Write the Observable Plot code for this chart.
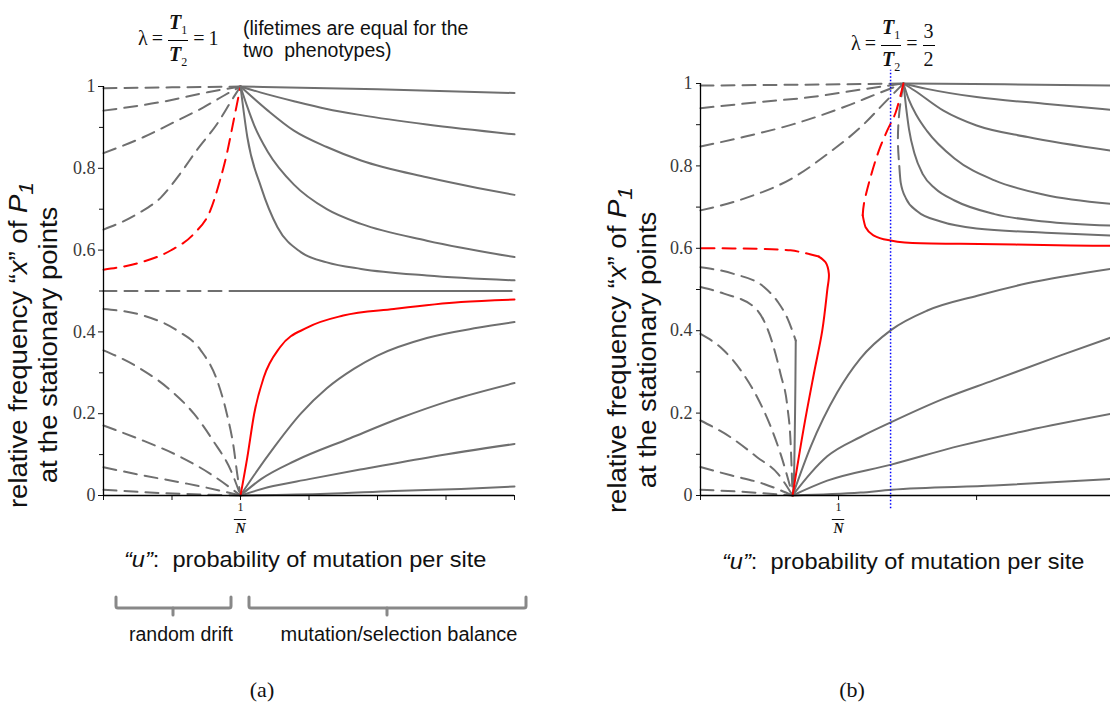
<!DOCTYPE html>
<html><head><meta charset="utf-8">
<script src="https://cdn.jsdelivr.net/npm/d3@7"></script>
<script src="https://cdn.jsdelivr.net/npm/@observablehq/plot@0.6"></script>
<style>
body{margin:0;background:#fff;width:1110px;height:710px;position:relative;overflow:hidden;font-family:"Liberation Sans",Arial,sans-serif;color:#111;}
.abs{position:absolute;white-space:nowrap;}
.serif{font-family:"Liberation Serif","Times New Roman",serif;}
.frac{display:inline-flex;flex-direction:column;align-items:center;vertical-align:middle;line-height:1.1;margin:0 1px;}
.frac .num{border-bottom:1px solid #000;padding:0 1px 3px 1px;}
.frac .den{padding-top:2px;}
.T{font-weight:bold;font-style:italic;}
.T sub{font-weight:normal;font-style:normal;font-size:60%;}
.ylab{position:absolute;transform:translate(-50%,-50%) rotate(-90deg) scaleX(1.1);text-align:center;font-size:25px;line-height:23px;white-space:nowrap;}
.xlab{font-size:22px;transform:scaleX(1.07);transform-origin:left center;}
</style></head><body>
<div id="pa" class="abs" style="left:60px;top:70px"></div>
<div id="pb" class="abs" style="left:640px;top:65px"></div>

<div class="abs serif" style="left:138px;top:11px;font-size:20px;">λ&thinsp;=&thinsp;<span class="frac"><span class="num T">T<sub>1</sub></span><span class="den T">T<sub>2</sub></span></span>&thinsp;=&thinsp;1</div>
<div class="abs" style="left:243px;top:17px;font-size:19.5px;line-height:22px;">(lifetimes are equal for the<br>two&nbsp; phenotypes)</div>
<div class="abs serif" style="left:851px;top:16px;font-size:20px;">λ&thinsp;=&thinsp;<span class="frac"><span class="num T">T<sub>1</sub></span><span class="den T">T<sub>2</sub></span></span>&thinsp;=&thinsp;<span class="frac"><span class="num">3</span><span class="den">2</span></span></div>

<div class="ylab" style="left:33px;top:345px;">relative frequency “<i>x</i>” of <i>P</i><sub><i>1</i></sub><br>at the stationary points</div>
<div class="ylab" style="left:632px;top:350px;">relative frequency “<i>x</i>” of <i>P</i><sub><i>1</i></sub><br>at the stationary points</div>

<div class="abs xlab" style="left:124px;top:547px;"><i>“u”</i>:&nbsp; probability of mutation per site</div>
<div class="abs xlab" style="left:722px;top:549px;"><i>“u”</i>:&nbsp; probability of mutation per site</div>

<svg class="abs" style="left:0;top:0" width="1110" height="710">
  <g fill="none" stroke="#888" stroke-width="3" stroke-linejoin="round" stroke-linecap="round">
    <path d="M116,597 V606 Q116,608 118,608 H229 Q231,608 231,606 V597"/>
    <path d="M173,608 V615"/>
    <path d="M249,597 V606 Q249,608 251,608 H524 Q526,608 526,606 V597"/>
    <path d="M387,608 V615"/>
  </g>
</svg>
<div class="abs" style="left:181px;top:623px;font-size:19.5px;transform:translateX(-50%);">random drift</div>
<div class="abs" style="left:399px;top:623px;font-size:20px;transform:translateX(-50%);">mutation/selection balance</div>
<div class="abs serif" style="left:262px;top:677px;font-size:22px;transform:translateX(-50%);">(a)</div>
<div class="abs serif" style="left:852px;top:677px;font-size:22px;transform:translateX(-50%);">(b)</div>

<script>
// ---------- shared ----------
const yMajor = [0, 0.2, 0.4, 0.6, 0.8, 1];
const yMinor = [0.1, 0.3, 0.5, 0.7, 0.9];
const gray = "#6f6f6f", red = "#ff0000";

// ---------- panel (a): lambda = 1, u in units of 1/N ----------
const aXTicks = [0, 0.5, 1, 1.5, 2, 2.5, 3];
const aOneOverN = [1];
const aTopD1 = [[0,0.996],[0.5,0.998],[1,1]];
const aTopD2 = [[0,0.941],[0.42,0.962],[0.76,0.986],[1,1]];
const aTopD3 = [[0,0.837],[0.29,0.876],[0.54,0.917],[0.73,0.949],[0.88,0.978],[1,1]];
const aTopD4 = [[0,0.650],[0.25,0.689],[0.42,0.729],[0.56,0.787],[0.68,0.844],[0.83,0.909],[0.95,0.974],[1,1]];
const aTopRedD = [[0,0.552],[0.25,0.568],[0.49,0.599],[0.66,0.640],[0.78,0.697],[0.85,0.770],[0.90,0.835],[0.95,0.917],[1,1]];
const aTopS1 = [[1,1],[2,0.993],[3,0.984]];
const aTopS2 = [[1,1],[1.15,0.985],[1.39,0.964],[1.63,0.945],[1.88,0.93],[2.36,0.907],[3,0.883]];
const aTopS3 = [[1,1],[1.2,0.941],[1.39,0.892],[1.63,0.852],[1.88,0.819],[2.36,0.778],[2.73,0.752],[3,0.735]];
const aTopS4 = [[1,1],[1.05,0.95],[1.1,0.905],[1.2,0.84],[1.39,0.76],[1.63,0.70],[1.88,0.664],[2.36,0.623],[3,0.583]];
const aTopS5 = [[1,1],[1.05,0.876],[1.15,0.754],[1.27,0.656],[1.44,0.595],[1.63,0.570],[1.88,0.554],[2.36,0.538],[3,0.526]];
const aMidD = [[0,0.5],[1,0.5]];
const aMidS = [[1,0.5],[2.98,0.5]];
const aBotRedS = [[1,0],[1.05,0.094],[1.1,0.2],[1.17,0.289],[1.29,0.363],[1.49,0.411],[1.75,0.440],[2.12,0.456],[2.61,0.473],[3,0.479]];
const aBotS1 = [[1,0],[1.1,0.05],[1.25,0.12],[1.44,0.2],[1.63,0.262],[1.83,0.31],[2.0,0.342],[2.36,0.385],[2.73,0.41],[3,0.424]];
const aBotS2 = [[1,0],[1.15,0.04],[1.4,0.085],[1.8,0.14],[2.17,0.19],[2.53,0.232],[3,0.275]];
const aBotS3 = [[1,0],[1.2,0.02],[1.5,0.04],[1.9,0.065],[2.4,0.095],[3,0.126]];
const aBotS4 = [[1,0],[1.63,0.004],[2.12,0.011],[2.61,0.016],[3,0.022]];
const aBotD1 = [[0,0.456],[0.29,0.44],[0.54,0.403],[0.71,0.355],[0.83,0.281],[0.90,0.2],[0.95,0.118],[0.976,0.053],[1,0]];
const aBotD2 = [[0,0.355],[0.25,0.314],[0.49,0.257],[0.66,0.2],[0.8,0.134],[0.93,0.061],[1,0]];
const aBotD3 = [[0,0.171],[0.29,0.134],[0.54,0.098],[0.78,0.053],[1,0]];
const aBotD4 = [[0,0.069],[0.29,0.049],[0.61,0.029],[0.85,0.012],[1,0]];
const aBotD5 = [[0,0.014],[0.42,0.006],[1,0]];

// ---------- panel (b): lambda = 3/2 ----------
const bXTicks = [0, 1, 2];
const bOneOverN = [1];
const bBlueU = [1.377];
const bTopD1 = [[0,0.995],[0.7,0.997],[1.47,1]];
const bTopD2 = [[0,0.940],[0.43,0.955],[0.8,0.967],[1.16,0.985],[1.47,1]];
const bTopD3 = [[0,0.847],[0.31,0.87],[0.68,0.902],[1.04,0.943],[1.28,0.975],[1.47,1]];
const bTopD4 = [[0,0.692],[0.31,0.72],[0.68,0.773],[0.92,0.829],[1.16,0.894],[1.35,0.959],[1.47,1]];
const bTopRedD = [[1.47,1],[1.413,0.929],[1.353,0.886],[1.292,0.837],[1.232,0.773],[1.184,0.708],[1.175,0.68]];
const bTopRedS = [[1.175,0.68],[1.196,0.651],[1.256,0.631],[1.377,0.619],[1.594,0.612],[1.884,0.611],[2.68,0.607],[2.97,0.606]];
const bTopS1 = [[1.47,1],[2.2,0.998],[2.97,0.995]];
const bTopS2 = [[1.47,1],[1.64,0.987],[2.0,0.967],[2.49,0.951],[2.97,0.936]];
const bTopS3 = [[1.47,1],[1.55,0.983],[1.76,0.934],[2.0,0.898],[2.37,0.870],[2.97,0.837]];
const bTopS4 = [[1.47,1],[1.51,0.96],[1.57,0.92],[1.64,0.885],[1.84,0.818],[2.13,0.765],[2.49,0.73],[2.97,0.708]];
const bTopS5 = [[1.47,1],[1.49,0.94],[1.51,0.89],[1.55,0.83],[1.61,0.78],[1.7,0.745],[1.84,0.716],[2.13,0.683],[2.49,0.665],[2.97,0.655]];
const bTopD6 = [[1.47,1],[1.44,0.93],[1.43,0.86],[1.44,0.80]];
const bTopS6 = [[1.44,0.80],[1.45,0.76],[1.49,0.72],[1.57,0.69],[1.74,0.665],[2.0,0.648],[2.5,0.638],[2.97,0.631]];
const bBotRedS = [[0.667,0],[0.749,0.166],[0.821,0.295],[0.882,0.40],[0.918,0.498],[0.930,0.538],[0.906,0.566],[0.857,0.580]];
const bBotRedD = [[0.857,0.580],[0.749,0.589],[0.652,0.595],[0.411,0.599],[0,0.6]];
const bBotD1 = [[0,0.554],[0.24,0.538],[0.46,0.506],[0.56,0.47],[0.63,0.43],[0.69,0.376]];
const bBotS0 = [[0.69,0.376],[0.685,0.2],[0.674,0.02],[0.667,0]];
const bBotD2 = [[0,0.506],[0.17,0.49],[0.39,0.457],[0.48,0.409],[0.53,0.36],[0.58,0.295],[0.63,0.214],[0.652,0.133],[0.667,0]];
const bBotD3 = [[0,0.392],[0.17,0.352],[0.31,0.295],[0.41,0.239],[0.51,0.166],[0.58,0.101],[0.667,0]];
const bBotD4 = [[0,0.182],[0.22,0.141],[0.41,0.093],[0.56,0.053],[0.667,0]];
const bBotD5 = [[0,0.069],[0.22,0.049],[0.46,0.028],[0.667,0]];
const bBotD6 = [[0,0.014],[0.35,0.008],[0.667,0]];
const bBotS1 = [[0.667,0],[0.8,0.12],[0.99,0.25],[1.159,0.333],[1.382,0.402],[1.643,0.449],[2.005,0.485],[2.367,0.515],[2.97,0.55]];
const bBotS2 = [[0.667,0],[0.8,0.055],[0.918,0.095],[1.159,0.142],[1.382,0.178],[1.763,0.235],[2.126,0.28],[2.609,0.34],[2.97,0.383]];
const bBotS3 = [[0.667,0],[0.918,0.036],[1.382,0.075],[1.884,0.121],[2.367,0.158],[2.97,0.198]];
const bBotS4 = [[0.667,0],[1.159,0.007],[1.382,0.014],[2.126,0.024],[2.97,0.04]];

const aCurves = [
  [aTopD1,gray,1],[aTopD2,gray,1],[aTopD3,gray,1],[aTopD4,gray,1],[aTopRedD,red,1],
  [aTopS1,gray,0],[aTopS2,gray,0],[aTopS3,gray,0],[aTopS4,gray,0],[aTopS5,gray,0],
  [aMidD,gray,1],[aMidS,gray,0],
  [aBotS1,gray,0],[aBotS2,gray,0],[aBotS3,gray,0],[aBotS4,gray,0],
  [aBotD1,gray,1],[aBotD2,gray,1],[aBotD3,gray,1],[aBotD4,gray,1],[aBotD5,gray,1],
  [aBotRedS,red,0]
];
const bCurves = [
  [bTopD1,gray,1],[bTopD2,gray,1],[bTopD3,gray,1],[bTopD4,gray,1],
  [bTopS1,gray,0],[bTopS2,gray,0],[bTopS3,gray,0],[bTopS4,gray,0],[bTopS5,gray,0],
  [bTopD6,gray,1],[bTopS6,gray,0],
  [bBotD1,gray,1],[bBotS0,gray,0],[bBotD2,gray,1],[bBotD3,gray,1],[bBotD4,gray,1],[bBotD5,gray,1],[bBotD6,gray,1],
  [bBotS1,gray,0],[bBotS2,gray,0],[bBotS3,gray,0],[bBotS4,gray,0],
  [bTopRedD,red,1],[bTopRedS,red,0],[bBotRedS,red,0],[bBotRedD,red,1]
];

function curveMarks(list) {
  return list.map(([pts, color, dashed]) => {
    const inc = pts.every((p, i) => i === 0 || p[0] > pts[i - 1][0]);
    return Plot.line(pts, {
      x: d => d[0], y: d => d[1], stroke: color, strokeWidth: 2,
      curve: inc ? "monotone-x" : "catmull-rom", ...(dashed ? {strokeDasharray: "13,8"} : {})
    });
  });
}
function oneOverN(vals) {
  const base = {x: d => d, frameAnchor: "bottom", fontFamily: "Liberation Serif", fill: "#111"};
  return [
    Plot.text(vals, {...base, text: () => "1", dy: 15, fontSize: 12}),
    Plot.ruleY(vals, {y: () => 0, x1: d => d - 0.045, x2: d => d + 0.045, dy: 24, stroke: "#111", strokeWidth: 1}),
    Plot.text(vals, {...base, text: () => "N", dy: 37, fontSize: 14, fontWeight: "bold", fontStyle: "italic"})
  ];
}
function axes(xt, tickSizeY, padY) {
  return [
    Plot.axisY(yMajor, {tickSize: tickSizeY, tickPadding: padY, tickFormat: d => String(d), fill: "#3a3a3a"}),
    Plot.axisY(yMinor, {tickSize: 4, tickFormat: () => ""}),
    Plot.axisX(xt, {tickSize: 5, tickFormat: () => ""}),
    Plot.ruleX([0], {stroke: "#000", strokeWidth: 1.3}),
    Plot.ruleY([0], {stroke: "#000", strokeWidth: 1.3})
  ];
}
const style = {fontFamily: "Liberation Serif", fontSize: "18px", background: "transparent", overflow: "visible"};

const pa = Plot.plot({
  width: 470, height: 470, marginLeft: 43, marginRight: 16, marginTop: 16, marginBottom: 45,
  x: {domain: [0, 3], label: null}, y: {domain: [0, 1], label: null}, style,
  marks: [...curveMarks(aCurves), ...axes(aXTicks, 5, 3), ...oneOverN(aOneOverN)]
});
document.getElementById("pa").append(pa);

const pb = Plot.plot({
  width: 470, height: 475, marginLeft: 60, marginRight: 0, marginTop: 18, marginBottom: 45,
  x: {domain: [0, 2.97], label: null}, y: {domain: [0, 1], label: null}, style,
  marks: [
    ...curveMarks(bCurves),
    Plot.ruleX(bBlueU, {y1: -0.032, y2: 1.032, stroke: "#0000ff", strokeWidth: 1.5, strokeDasharray: "1.5,2"}),
    ...axes(bXTicks, 4, 4), ...oneOverN(bOneOverN)
  ]
});
document.getElementById("pb").append(pb);
</script>
</body></html>
